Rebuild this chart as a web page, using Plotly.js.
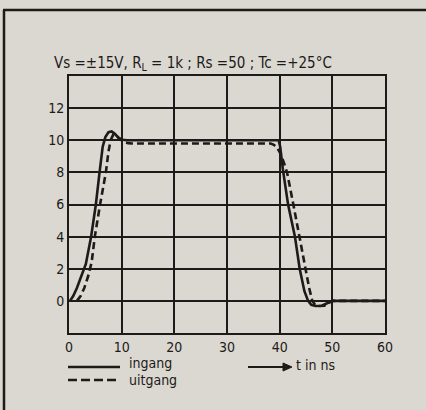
<!DOCTYPE html>
<html>
<head>
<meta charset="utf-8">
<script src="https://cdn.plot.ly/plotly-3.0.1.min.js"></script>
<style>
html,body{margin:0;padding:0;background:#dbd8d1;}
#chart{width:426px;height:410px;}
</style>
</head>
<body>
<div id="chart"></div>
<script>
// Input signal (ingang) - solid
var tIn = [0.2, 0.8, 1.5, 2.3, 3.2, 4.2, 5.1, 5.8, 6.4, 6.9, 7.5, 8.1, 8.7, 9.4, 10.2, 11, 39.8, 40.1, 40.6, 41.6, 42.9, 43.8, 44.7, 45.4, 46, 46.8, 48, 49, 50, 60];
var vIn = [0, 0.3, 0.8, 1.5, 2.3, 4, 6, 8, 9.6, 10.2, 10.5, 10.55, 10.4, 10.15, 10.03, 10, 10, 9.6, 8.2, 6, 4, 2, 0.6, 0, -0.25, -0.32, -0.3, -0.15, 0, 0];
// Output signal (uitgang) - dashed
var tOut = [1.5, 2.2, 2.9, 3.6, 4.3, 4.9, 5.9, 7.0, 7.5, 7.9, 8.4, 9.0, 9.6, 10.3, 11.2, 12, 38.3, 38.9, 39.5, 40.1, 40.7, 41.4, 42.6, 43.7, 44.9, 45.6, 46.2, 46.8, 47.5, 48.5, 49.3, 50, 60];
var vOut = [0, 0.3, 0.8, 1.5, 2.4, 4, 6, 8, 9.3, 10.0, 10.35, 10.3, 10.1, 9.9, 9.82, 9.8, 9.8, 9.72, 9.55, 9.2, 8.7, 8, 6, 4, 2, 0.8, 0, -0.28, -0.32, -0.3, -0.12, 0, 0];
var xTicks = [0, 10, 20, 30, 40, 50, 60];
var yTicks = [0, 2, 4, 6, 8, 10, 12];
var seriesNames = ["ingang", "uitgang"];
var titleText = "Vs =±15V, R<sub>L</sub> = 1k ; Rs =50 ; Tc =+25°C";
var axisLabel = "t in ns";

var ink = "#1c1b19";
var bg = "#dbd8d1";
var fontFam = "DejaVu Sans Condensed, Liberation Sans Narrow, Liberation Sans, sans-serif";

var L = 69, T = 76, W = 316, H = 257;
function px(x){ return (x - L) / W; }
function py(y){ return (T + H - y) / H; }

var traces = [
  {x: tIn, y: vIn, mode: "lines", name: seriesNames[0], line: {color: ink, width: 2.6}, hoverinfo: "skip"},
  {x: tOut, y: vOut, mode: "lines", name: seriesNames[1], line: {color: ink, width: 2.6, dash: "7px,4px"}, hoverinfo: "skip"}
];

// arrow (drawn as shapes) in pixel positions converted to paper
var ax0 = px(248), ax1 = px(292), ayc = py(367), ah = 4 / H;
var arrowPath = "M " + px(283) + "," + (ayc + ah) + " L " + ax1 + "," + ayc + " L " + px(283) + "," + (ayc - ah) + " Z";

var layout = {
  width: 426, height: 410,
  margin: {l: L, r: 426 - L - W, t: T, b: 410 - T - H, pad: 0},
  paper_bgcolor: bg, plot_bgcolor: bg,
  showlegend: false,
  font: {family: fontFam, color: ink, size: 14},
  xaxis: {
    range: [0, 60], tickvals: xTicks, ticktext: xTicks.map(String),
    showgrid: true, gridcolor: ink, gridwidth: 2,
    showline: true, linecolor: ink, linewidth: 2, mirror: true,
    zeroline: false, ticks: "", fixedrange: true,
    tickfont: {family: fontFam, size: 14, color: ink}
  },
  yaxis: {
    range: [-2, 14], tickvals: yTicks, ticktext: yTicks.map(String),
    showgrid: true, gridcolor: ink, gridwidth: 2,
    showline: true, linecolor: ink, linewidth: 2, mirror: true,
    zeroline: false, ticks: "", fixedrange: true,
    tickfont: {family: fontFam, size: 14, color: ink}
  },
  shapes: [
    // outer frame of the scanned figure
    {type: "line", xref: "paper", yref: "paper", x0: px(3), x1: px(426), y0: py(10), y1: py(10), line: {color: ink, width: 2.5}},
    {type: "line", xref: "paper", yref: "paper", x0: px(4), x1: px(4), y0: py(10), y1: py(410), line: {color: ink, width: 2.5}},
    // legend samples
    {type: "line", xref: "paper", yref: "paper", x0: px(68), x1: px(120), y0: py(367), y1: py(367), line: {color: ink, width: 2.5}},
    {type: "line", xref: "paper", yref: "paper", x0: px(68), x1: px(120), y0: py(380), y1: py(380), line: {color: ink, width: 2.5, dash: "9px,4px"}},
    // time arrow
    {type: "line", xref: "paper", yref: "paper", x0: ax0, x1: px(285), y0: ayc, y1: ayc, line: {color: ink, width: 2}},
    {type: "path", xref: "paper", yref: "paper", path: arrowPath, fillcolor: ink, line: {color: ink, width: 1}}
  ],
  annotations: [
    {text: titleText, xref: "paper", yref: "paper", x: px(52), y: py(64), xanchor: "left", yanchor: "middle", showarrow: false, font: {family: fontFam, size: 15, color: ink}},
    {text: seriesNames[0], xref: "paper", yref: "paper", x: px(127), y: py(363), xanchor: "left", yanchor: "middle", showarrow: false, font: {family: fontFam, size: 14, color: ink}},
    {text: seriesNames[1], xref: "paper", yref: "paper", x: px(127), y: py(380), xanchor: "left", yanchor: "middle", showarrow: false, font: {family: fontFam, size: 14, color: ink}},
    {text: axisLabel, xref: "paper", yref: "paper", x: px(294), y: py(365), xanchor: "left", yanchor: "middle", showarrow: false, font: {family: fontFam, size: 14, color: ink}}
  ]
};

Plotly.newPlot("chart", traces, layout, {staticPlot: true, displayModeBar: false});
</script>
</body>
</html>
